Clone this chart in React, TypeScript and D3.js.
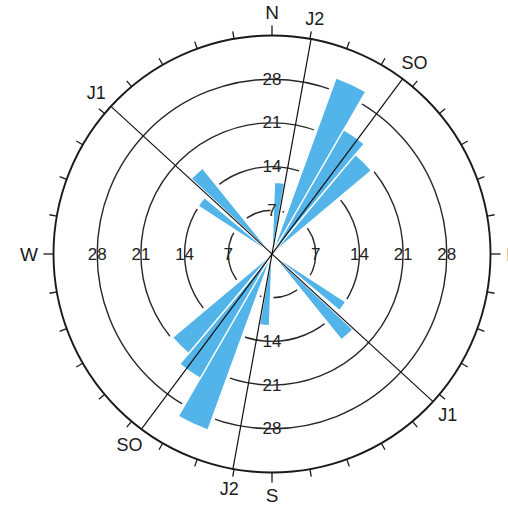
import React from "react";
import * as d3 from "d3";

// ---- data ----
const ringValues = [7, 14, 21, 28];
const maxValue = 35;
// petals (axial data, each drawn in both directions)
const petalFrom = [2, 20, 30, 40, 303, 313];
const petalTo = [10, 30, 40, 50, 310, 321];
const petalValue = [11.5, 30, 23, 20.8, 14.1, 17.7];
// structural lines
const lineNames = ["J2", "SO", "J1"];
const lineAzimuths = [10.3, 36.7, 312.5];
// cardinal labels
const cardinalNames = ["N", "E", "S", "W"];
const cardinalAzimuths = [0, 90, 180, 270];
const tickStep = 10;

const W = 508;
const H = 509;
const CX = 272;
const CY = 254;
const R = 218.5;

const rad = (deg: number) => (deg * Math.PI) / 180;
const px = (az: number, r: number) => CX + r * Math.sin(rad(az));
const py = (az: number, r: number) => CY - r * Math.cos(rad(az));

export default function App() {
  const r = d3.scaleLinear().domain([0, maxValue]).range([0, R]);
  const arc = d3.arc<any>();
  const blue = "#52b4e8";
  const font = "'Liberation Sans', Arial, Helvetica, sans-serif";

  const petals: { a0: number; a1: number; v: number }[] = [];
  petalValue.forEach((v, i) => {
    petals.push({ a0: petalFrom[i], a1: petalTo[i], v });
    petals.push({ a0: petalFrom[i] + 180, a1: petalTo[i] + 180, v });
  });
  const petalPath = (p: { a0: number; a1: number; v: number }) =>
    arc({
      innerRadius: 0,
      outerRadius: r(p.v),
      startAngle: rad(p.a0),
      endAngle: rad(p.a1),
    }) as string;

  const ticks = d3.range(0, 360, tickStep);

  const ringLabels: { az: number; v: number }[] = [];
  [0, 90, 180, 270].forEach((az) => {
    ringValues.forEach((v) => {
      if (az === 180 && v === ringValues[0]) return;
      ringLabels.push({ az, v });
    });
  });

  return (
    <svg
      width={W}
      height={H}
      style={{ position: "absolute", left: 0, top: 0, background: "#fff" }}
    >
      <rect x={0} y={0} width={W} height={H} fill="#fff" />
      {/* rings */}
      {ringValues.map((v) => (
        <circle
          key={v}
          cx={CX}
          cy={CY}
          r={r(v)}
          fill="none"
          stroke="#262626"
          strokeWidth={1.4}
        />
      ))}
      {/* halos and petals */}
      <g transform={`translate(${CX},${CY})`}>
        {petals.map((p, i) => (
          <path
            key={"h" + i}
            d={petalPath(p)}
            fill="#fff"
            stroke="#fff"
            strokeWidth={6}
            strokeLinejoin="round"
          />
        ))}
        {petals.map((p, i) => (
          <path
            key={"p" + i}
            d={petalPath(p)}
            fill={blue}
            stroke="#fff"
            strokeWidth={1.3}
          />
        ))}
      </g>
      {/* structural lines */}
      {lineAzimuths.map((az, i) => (
        <line
          key={"l" + i}
          x1={px(az, R)}
          y1={py(az, R)}
          x2={px(az + 180, R)}
          y2={py(az + 180, R)}
          stroke="#111"
          strokeWidth={1.2}
        />
      ))}
      {/* outer circle and ticks */}
      <circle
        cx={CX}
        cy={CY}
        r={R}
        fill="none"
        stroke="#1a1a1a"
        strokeWidth={1.9}
      />
      {ticks.map((az) => {
        const len = az % 90 === 0 ? 10 : 7.5;
        return (
          <line
            key={"t" + az}
            x1={px(az, R)}
            y1={py(az, R)}
            x2={px(az, R + len)}
            y2={py(az, R + len)}
            stroke="#1a1a1a"
            strokeWidth={1.3}
          />
        );
      })}
      {/* ring labels */}
      {ringLabels.map((d, i) => (
        <text
          key={"rl" + i}
          x={px(d.az, r(d.v))}
          y={py(d.az, r(d.v))}
          textAnchor="middle"
          dominantBaseline="central"
          fontFamily={font}
          fontSize={17}
          fill="#222"
        >
          {d.v}
        </text>
      ))}
      {/* line labels */}
      {lineAzimuths.map((az, i) =>
        [az, az + 180].map((a, j) => (
          <text
            key={"ll" + i + "-" + j}
            x={px(a, R + 20)}
            y={py(a, R + 20)}
            textAnchor="middle"
            dominantBaseline="central"
            fontFamily={font}
            fontSize={18}
            fill="#1a1a1a"
          >
            {lineNames[i]}
          </text>
        ))
      )}
      {/* cardinal labels */}
      {cardinalAzimuths.map((az, i) => {
        const fs = 19;
        const w = cardinalNames[i].length * fs * (cardinalNames[i] === "W" ? 0.9 : 0.65);
        const rr =
          R + 16 + 7 * Math.abs(Math.cos(rad(az))) + (w / 2) * Math.abs(Math.sin(rad(az)));
        return (
          <text
            key={"c" + i}
            x={px(az, rr)}
            y={py(az, rr)}
            textAnchor="middle"
            dominantBaseline="central"
            fontFamily={font}
            fontSize={fs}
            fill="#1a1a1a"
          >
            {cardinalNames[i]}
          </text>
        );
      })}
    </svg>
  );
}
